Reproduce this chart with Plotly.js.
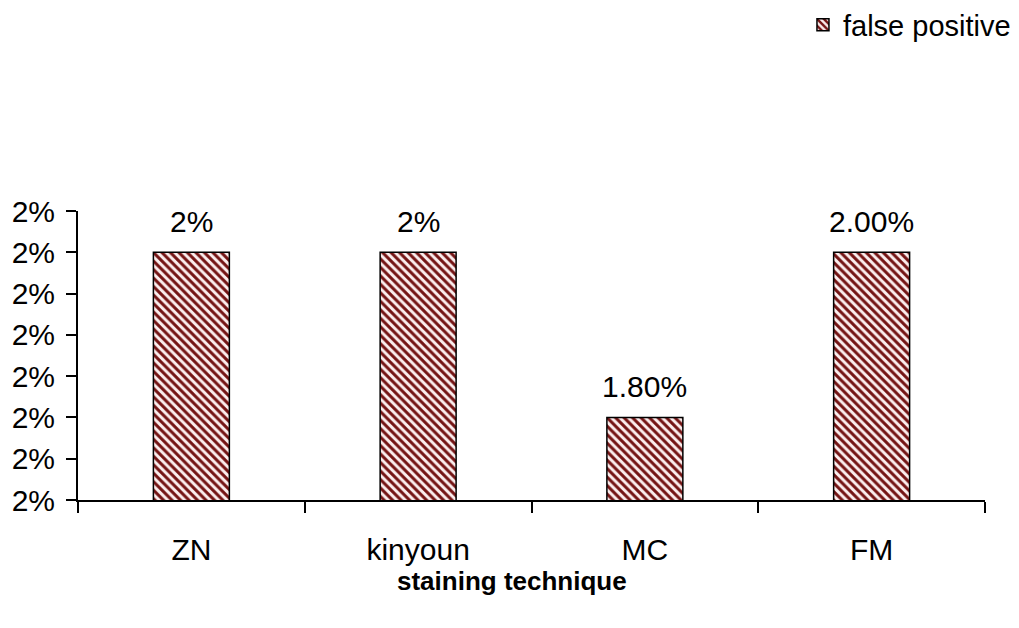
<!DOCTYPE html>
<html>
<head>
<meta charset="utf-8">
<script src="https://cdn.plot.ly/plotly-3.0.1.min.js"></script>
<style>
  html, body { margin: 0; padding: 0; background: #ffffff; }
  #chart { width: 1019px; height: 628px; }
</style>
</head>
<body>
<div id="chart"></div>
<script>
// False positive rate by staining technique
const categories = ['ZN', 'kinyoun', 'MC', 'FM'];
const falsePositive = [0.02, 0.02, 0.018, 0.02];
const valueLabels = ['2%', '2%', '1.80%', '2.00%'];
const seriesName = 'false positive';
const axisTitle = 'staining technique';

const FONT = 'Liberation Sans, Arial, sans-serif';

const trace = {
  type: 'bar',
  x: categories,
  y: falsePositive,
  name: seriesName,
  showlegend: true,
  hoverinfo: 'x+y',
  marker: {
    color: '#fbeeee',
    line: { color: '#000000', width: 1.5 },
    pattern: {
      shape: '\\',
      fgcolor: '#741414',
      bgcolor: '#fbeeee',
      size: 6,
      solidity: 0.5,
      fillmode: 'replace'
    }
  }
};

// value labels placed above each bar
const labelAnnotations = categories.map((c, i) => ({
  x: c,
  y: falsePositive[i],
  xref: 'x',
  yref: 'y',
  text: valueLabels[i],
  showarrow: false,
  yanchor: 'bottom',
  yshift: 12,
  font: { family: FONT, size: 30, color: '#000000' }
}));

const layout = {
  width: 1019,
  height: 628,
  margin: { l: 78, r: 34, t: 211, b: 128, pad: 0, autoexpand: false },
  paper_bgcolor: '#ffffff',
  plot_bgcolor: '#ffffff',
  font: { family: FONT, size: 30, color: '#000000' },
  bargap: 0.665,
  showlegend: true,
  legend: {
    x: 0.7993,
    xanchor: 'left',
    y: 1.6436,
    yanchor: 'middle',
    bgcolor: 'rgba(0,0,0,0)',
    borderwidth: 0,
    font: { family: FONT, size: 29, color: '#000000' }
  },
  xaxis: {
    type: 'category',
    showgrid: false,
    zeroline: false,
    showline: true,
    linecolor: '#000000',
    linewidth: 2,
    ticks: 'outside',
    tickson: 'boundaries',
    ticklen: 11,
    tickwidth: 2,
    tickcolor: '#000000',
    ticklabelstandoff: 22,
    tickfont: { family: FONT, size: 30, color: '#000000' },
    automargin: false,
    fixedrange: true
  },
  yaxis: {
    range: [0.017, 0.02050001],
    tick0: 0.017,
    dtick: 0.0005,
    tickformat: '.0%',
    showgrid: false,
    zeroline: false,
    showline: true,
    linecolor: '#000000',
    linewidth: 2,
    ticks: 'outside',
    ticklen: 10,
    tickwidth: 2,
    tickcolor: '#000000',
    ticklabelstandoff: 5,
    tickfont: { family: FONT, size: 30, color: '#000000' },
    automargin: false,
    fixedrange: true
  },
  annotations: labelAnnotations.concat([{
    xref: 'paper',
    yref: 'paper',
    x: 0.4785,
    y: -0.28,
    xanchor: 'center',
    yanchor: 'middle',
    text: '<b>' + axisTitle + '</b>',
    showarrow: false,
    font: { family: FONT, size: 26, color: '#000000' }
  }])
};

Plotly.newPlot('chart', [trace], layout, { displayModeBar: false, staticPlot: true });
</script>
</body>
</html>
